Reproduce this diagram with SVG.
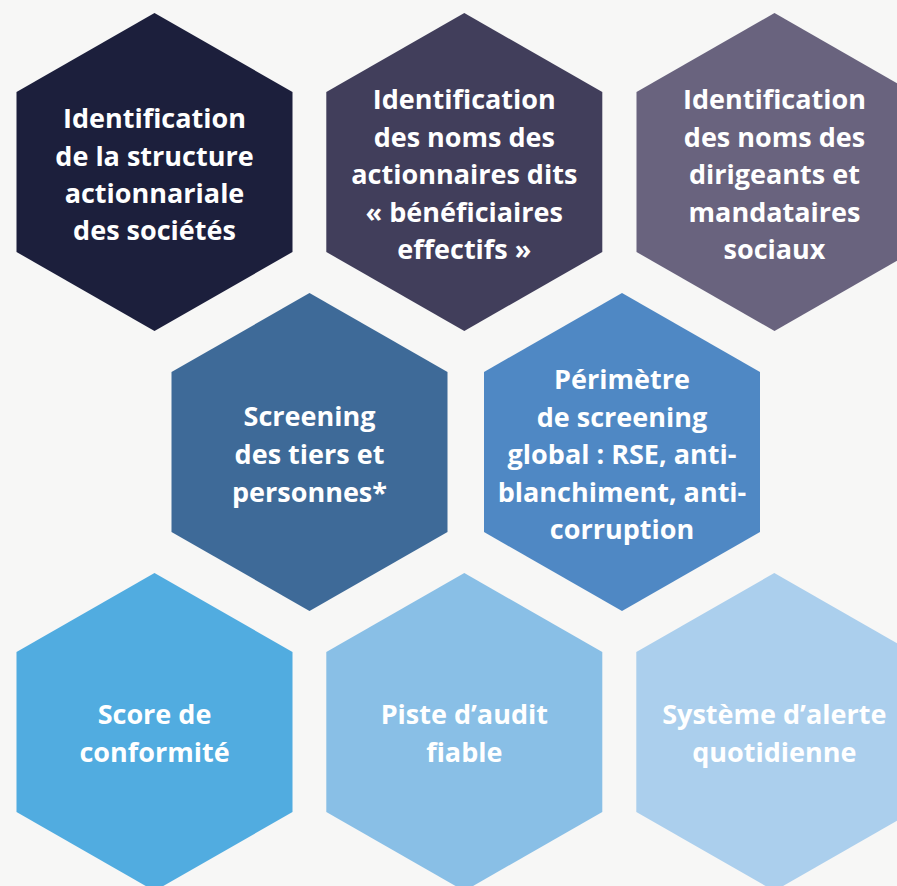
<svg xmlns="http://www.w3.org/2000/svg" width="897" height="886" viewBox="0 0 897 886">
<defs>
<style>
.bg{fill:#f7f7f6}
.hex text{font-family:"Open Sans","Liberation Sans",sans-serif;font-weight:700;font-size:27px;fill:#ffffff;text-anchor:middle}
</style>
<polygon id="hx" points="0,-159 138,-80 138,80 0,159 -138,80 -138,-80"/>
</defs>
<rect class="bg" x="0" y="0" width="897" height="886"/>
<g id="n1" class="hex">
<use href="#hx" x="154.5" y="172" fill="#1c1f3c"/>
<text x="154.5"><tspan x="154.5" y="128">Identification</tspan><tspan x="154.5" y="165.5">de la structure</tspan><tspan x="154.5" y="202.5">actionnariale</tspan><tspan x="154.5" y="240">des sociétés</tspan></text>
</g>
<g id="n2" class="hex">
<use href="#hx" x="464.3" y="172" fill="#413e5b"/>
<text><tspan x="464.3" y="109">Identification</tspan><tspan x="464.3" y="146.5">des noms des</tspan><tspan x="464.3" y="184">actionnaires dits</tspan><tspan x="464.3" y="221.5">« bénéficiaires</tspan><tspan x="464.3" y="258.5">effectifs »</tspan></text>
</g>
<g id="n3" class="hex">
<use href="#hx" x="774.5" y="172" fill="#69637e"/>
<text><tspan x="774.5" y="109">Identification</tspan><tspan x="774.5" y="146.5">des noms des</tspan><tspan x="774.5" y="184">dirigeants et</tspan><tspan x="774.5" y="221.5">mandataires</tspan><tspan x="774.5" y="258.5">sociaux</tspan></text>
</g>
<g id="n4" class="hex">
<use href="#hx" x="309.5" y="452" fill="#3e6a98"/>
<text><tspan x="309.5" y="426">Screening</tspan><tspan x="309.5" y="464">des tiers et</tspan><tspan x="309.5" y="501.5">personnes*</tspan></text>
</g>
<g id="n5" class="hex">
<use href="#hx" x="622" y="452" fill="#4f88c4"/>
<text><tspan x="622" y="389">Périmètre</tspan><tspan x="622" y="426.5">de screening</tspan><tspan x="622" y="464">global : RSE, anti-</tspan><tspan x="622" y="501.5">blanchiment, anti-</tspan><tspan x="622" y="538.5">corruption</tspan></text>
</g>
<g id="n6" class="hex">
<use href="#hx" x="154.5" y="732" fill="#51ace0"/>
<text><tspan x="154.5" y="724">Score de</tspan><tspan x="154.5" y="762">conformité</tspan></text>
</g>
<g id="n7" class="hex">
<use href="#hx" x="464.3" y="732" fill="#89bfe6"/>
<text><tspan x="464.3" y="724">Piste d’audit</tspan><tspan x="464.3" y="762">fiable</tspan></text>
</g>
<g id="n8" class="hex">
<use href="#hx" x="774.3" y="732" fill="#abcfed"/>
<text><tspan x="774.3" y="724">Système d’alerte</tspan><tspan x="774.3" y="762">quotidienne</tspan></text>
</g>
<g id="connectors"/>
</svg>
